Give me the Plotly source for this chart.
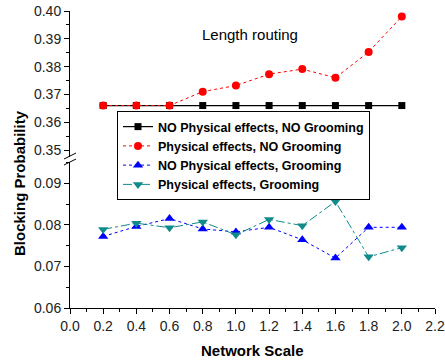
import plotly.graph_objects as go

x_vals = [0.2, 0.4, 0.6, 0.8, 1.0, 1.2, 1.4, 1.6, 1.8, 2.0]
no_phys_no_groom = [0.366, 0.366, 0.366, 0.366, 0.366, 0.366, 0.366, 0.366, 0.366, 0.366]
phys_no_groom = [0.366, 0.366, 0.366, 0.371, 0.3732, 0.3773, 0.3791, 0.376, 0.3853, 0.398]
no_phys_groom = [0.0772, 0.0796, 0.0815, 0.079, 0.0783, 0.0794, 0.0764, 0.072, 0.0794, 0.0794]
phys_groom = [0.0789, 0.0804, 0.0793, 0.0807, 0.0776, 0.0813, 0.0798, 0.0856, 0.0723, 0.0745]

top_ticks = [0.35, 0.36, 0.37, 0.38, 0.39, 0.40]
bottom_ticks = [0.06, 0.07, 0.08, 0.09]
x_ticks = [0.0, 0.2, 0.4, 0.6, 0.8, 1.0, 1.2, 1.4, 1.6, 1.8, 2.0, 2.2]

FONT = "Arial, Liberation Sans, sans-serif"
W, H = 445, 362
ML, MR, MT, MB = 70, 10, 11, 54
PW, PH = W - ML - MR, H - MT - MB

def py(p):
    return (H - MB - p) / PH

def px(p):
    return (p - ML) / PW

fig = go.Figure()
fig.add_trace(go.Scatter(x=x_vals, y=no_phys_no_groom, yaxis="y2", mode="lines+markers",
                         name="NO Physical effects, NO Grooming",
                         line=dict(color="black", width=1.2),
                         marker=dict(symbol="square", size=7, color="black")))
fig.add_trace(go.Scatter(x=x_vals, y=phys_no_groom, yaxis="y2", mode="lines+markers",
                         name="Physical effects, NO Grooming",
                         line=dict(color="#ff0000", width=1, dash="dot"),
                         marker=dict(symbol="circle", size=8, color="#ff0000")))
fig.add_trace(go.Scatter(x=x_vals, y=no_phys_groom, yaxis="y", mode="lines+markers",
                         name="NO Physical effects, Grooming",
                         line=dict(color="#0000ff", width=1, dash="dot"),
                         marker=dict(symbol="triangle-up", size=9, color="#0000ff")))
fig.add_trace(go.Scatter(x=x_vals, y=phys_groom, yaxis="y", mode="lines+markers",
                         name="Physical effects, Grooming",
                         line=dict(color="#108a8a", width=1, dash="dashdot"),
                         marker=dict(symbol="triangle-down", size=9, color="#108a8a")))

axis_common = dict(showline=True, linecolor="black", linewidth=1, ticks="outside",
                   ticklen=5, tickwidth=1, tickcolor="black", showgrid=False, zeroline=False,
                   automargin=False,
                   tickfont=dict(family=FONT, size=14, color="#222"))

fig.update_layout(
    width=W, height=H,
    margin=dict(l=ML, r=MR, t=MT, b=MB, autoexpand=False),
    plot_bgcolor="white", paper_bgcolor="white",
    showlegend=True,
    xaxis=dict(range=[0.0, 2.2], tickvals=x_ticks, tickformat=".1f", anchor="y",
               minor=dict(dtick=0.1, ticklen=3, tickcolor="black", ticks="outside"),
               **axis_common),
    yaxis=dict(domain=[0, py(162)], range=[0.06, 0.0951], tickvals=bottom_ticks, tickformat=".2f",
               anchor="x",
               minor=dict(dtick=0.005, ticklen=3, tickcolor="black", ticks="outside"),
               **axis_common),
    yaxis2=dict(domain=[py(157), 1], range=[0.3475, 0.40], tickvals=top_ticks, tickformat=".2f",
                anchor="x",
                minor=dict(dtick=0.005, ticklen=3, tickcolor="black", ticks="outside"),
                **axis_common),
    legend=dict(x=px(117), y=py(111), xanchor="left", yanchor="top",
                bgcolor="white", bordercolor="black", borderwidth=1,
                font=dict(family=FONT, size=12.5, color="black"),
                itemwidth=30, tracegroupgap=0),
)

fig.add_annotation(text="<b>Blocking Probability</b>", xref="paper", yref="paper",
                   x=px(19), y=py(183), xanchor="center", yanchor="middle",
                   textangle=-90, showarrow=False,
                   font=dict(family=FONT, size=15, color="black"))
fig.add_annotation(text="<b>Network Scale</b>", xref="paper", yref="paper",
                   x=px(252), y=py(350), xanchor="center", yanchor="middle", showarrow=False,
                   font=dict(family=FONT, size=15, color="black"))
fig.add_annotation(text="Length routing", xref="paper", yref="paper",
                   x=px(250), y=py(35), xanchor="center", yanchor="middle", showarrow=False,
                   font=dict(family=FONT, size=15, color="black"))

# axis break marks
for y0 in (159, 165):
    fig.add_shape(type="line", xref="paper", yref="paper",
                  x0=px(64), y0=py(y0), x1=px(76), y1=py(y0 - 6),
                  line=dict(color="black", width=1))

for t in fig.data:
    t.name = "<b>" + t.name + "</b>"

fig.write_html("out.html")
